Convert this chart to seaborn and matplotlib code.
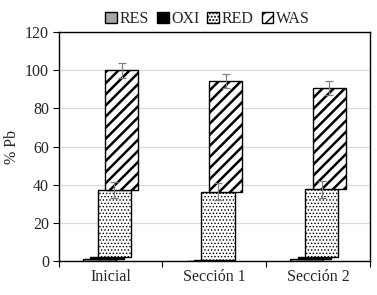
import numpy as np
import matplotlib
matplotlib.use("Agg")
import matplotlib.pyplot as plt
import seaborn as sns

sns.set_theme(style="white")
plt.rcParams['font.family'] = ['Liberation Serif', 'DejaVu Serif']

# data (% Pb per fraction)
categories = ["Inicial", "Sección 1", "Sección 2"]
series = ["RES", "OXI", "RED", "WAS"]
res = [1.0, 0.3, 1.0]
oxi = [1.0, 0.3, 0.9]
red = [35.3, 35.8, 35.7]
was = [62.7, 58.1, 53.0]
red_err = [4.3, 4.6, 4.5]
was_err = [4.0, 3.8, 3.8]

values = [res, oxi, red, was]
errors = [None, None, red_err, was_err]
colors = ["#a6a6a6", "#000000", "white", "white"]
hatches = [None, None, ".....", "///"]

fig, ax = plt.subplots(figsize=(3.77, 2.95), dpi=100)
fig.subplots_adjust(left=0.156, right=0.981, top=0.891, bottom=0.115)

x = np.arange(len(categories))
width = 0.32
offsets = [-0.108, -0.036, 0.036, 0.108]
bottom = np.zeros(len(categories))
handles = []
for name, vals, err, col, hat, off in zip(series, values, errors, colors, hatches, offsets):
    vals = np.array(vals)
    bars = ax.bar(x + off, vals, width, bottom=bottom, color=col, edgecolor="black",
                  linewidth=1.0, hatch=hat, label=name, zorder=3)
    for b in bars:
        if hat == "///":
            b.set_hatch_linewidth(1.8)
        elif hat:
            b.set_hatch_linewidth(0.6)
    if err is not None:
        ax.errorbar(x + off, bottom + vals, yerr=err, fmt="none", ecolor="#808080",
                    elinewidth=0.9, capsize=3, capthick=0.9, zorder=4)
    handles.append(bars[0])
    bottom = bottom + vals

ax.set_xlim(-0.5, 2.5)
ax.set_ylim(0, 120)
ax.set_yticks(np.arange(0, 121, 20))
ax.yaxis.grid(True, color="#d9d9d9", linewidth=0.8, zorder=0)
ax.set_axisbelow(True)

ax.set_xticks([-0.5, 0.5, 1.5, 2.5])
ax.set_xticklabels([])
ax.set_xticks(x, minor=True)
ax.set_xticklabels(categories, minor=True, fontsize=11.5)
ax.tick_params(axis="x", which="major", direction="out", length=4, width=0.8, color="black", bottom=True)
ax.tick_params(axis="x", which="minor", length=0, pad=6)
ax.tick_params(axis="y", direction="out", length=4, width=0.8, color="black", left=True, labelsize=11.5, pad=3)

for s in ax.spines.values():
    s.set_color("black")
    s.set_linewidth(1.0)

ax.set_ylabel("% Pb", fontsize=11.5, labelpad=4)

fig.legend(handles, series, loc="center", bbox_to_anchor=(0.55, 0.935), ncol=4, frameon=False,
           fontsize=11.5, handlelength=0.75, handleheight=0.75, handletextpad=0.15,
           columnspacing=0.5, borderaxespad=0)

fig.savefig("out.png", dpi=100)
